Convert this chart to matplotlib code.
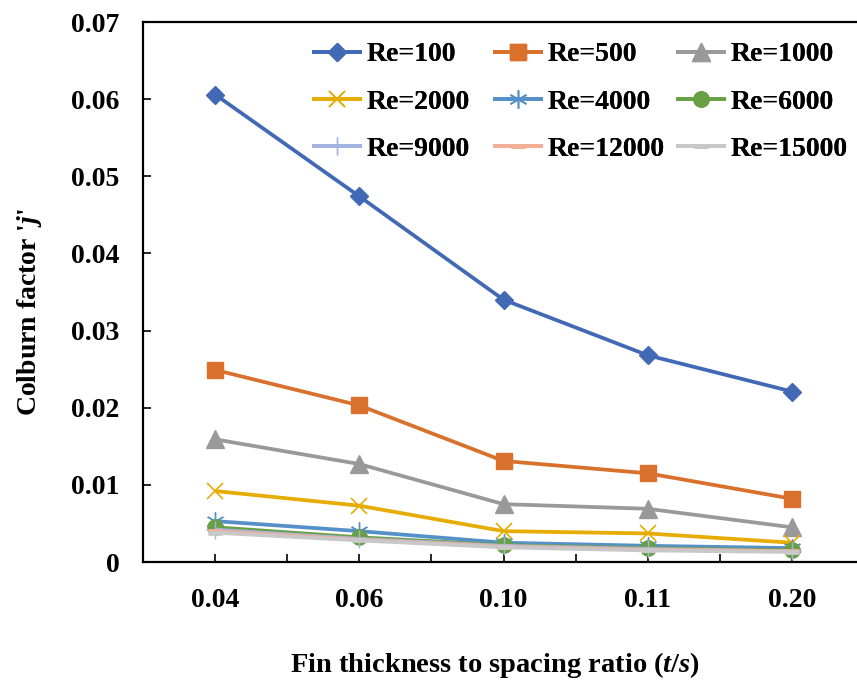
import matplotlib
matplotlib.use("Agg")
import matplotlib.pyplot as plt
from matplotlib.ticker import FixedLocator

# Fin thickness to spacing ratio categories
ratios = ["0.04", "0.06", "0.10", "0.11", "0.20"]

# Colburn factor j for each Reynolds number
j_re100 = [0.0606, 0.0474, 0.0340, 0.0268, 0.0221]
j_re500 = [0.0249, 0.0203, 0.0131, 0.0115, 0.0082]
j_re1000 = [0.0159, 0.0127, 0.0075, 0.0069, 0.0045]
j_re2000 = [0.0092, 0.0073, 0.0040, 0.0037, 0.0025]
j_re4000 = [0.0053, 0.0040, 0.0025, 0.0021, 0.0018]
j_re6000 = [0.0045, 0.0032, 0.0022, 0.0018, 0.0015]
j_re9000 = [0.0042, 0.0030, 0.0021, 0.0017, 0.0014]
j_re12000 = [0.0040, 0.0029, 0.0020, 0.0016, 0.0014]
j_re15000 = [0.0038, 0.0028, 0.0019, 0.0015, 0.0013]

y_ticks = [0.00, 0.01, 0.02, 0.03, 0.04, 0.05, 0.06, 0.07]
y_tick_labels = ["0", "0.01", "0.02", "0.03", "0.04", "0.05", "0.06", "0.07"]

labels = ["Re=100", "Re=500", "Re=1000", "Re=2000", "Re=4000",
          "Re=6000", "Re=9000", "Re=12000", "Re=15000"]
series = [j_re100, j_re500, j_re1000, j_re2000, j_re4000,
          j_re6000, j_re9000, j_re12000, j_re15000]

styles = [
    dict(color="#4169B6", marker="D", ms=9.5, mew=1.0),
    dict(color="#D9702C", marker="s", ms=11.5, mew=1.0),
    dict(color="#999999", marker="^", ms=12.5, mew=1.0),
    dict(color="#E6AC00", marker="x", ms=12, mew=1.2),
    dict(color="#5590CA", marker=(6, 2, 0), ms=13, mew=1.0),
    dict(color="#69A045", marker="o", ms=11, mew=1.0),
    dict(color="#A2B3E2", marker="+", ms=13, mew=1.0),
    dict(color="#F2AE96", marker="_", ms=10, mew=3.5),
    dict(color="#C8C8C8", marker="_", ms=10, mew=3.5),
]

plt.rcParams["font.family"] = ["Liberation Serif", "DejaVu Serif"]
plt.rcParams["font.weight"] = "bold"
plt.rcParams["mathtext.fontset"] = "custom"
plt.rcParams["mathtext.rm"] = "Liberation Serif:bold"
plt.rcParams["mathtext.it"] = "Liberation Serif:italic:bold"
plt.rcParams["mathtext.bf"] = "Liberation Serif:bold"

W, H = 857, 681
fig = plt.figure(figsize=(W / 100, H / 100), dpi=100)

# axes box in pixels: left 143, right 864, top 22, bottom 562
ax_left, ax_right, ax_top, ax_bottom = 143, 864, 22, 562
ax = fig.add_axes([ax_left / W, 1 - ax_bottom / H,
                   (ax_right - ax_left) / W, (ax_bottom - ax_top) / H])

x = list(range(len(ratios)))
handles = []
for lab, vals, st in zip(labels, series, styles):
    (h,) = ax.plot(x, vals, color=st["color"], lw=2.7, marker=st["marker"],
                   ms=st["ms"], mew=st["mew"], mec=st["color"],
                   mfc=st["color"], label=lab, solid_capstyle="butt")
    handles.append(h)

ax.set_xlim(-0.5, len(ratios) - 0.5)
ax.set_ylim(0, 0.07)
ax.xaxis.set_major_locator(FixedLocator(x))
ax.set_xticklabels(ratios)
ax.xaxis.set_minor_locator(FixedLocator([i + 0.5 for i in range(-1, len(ratios))]))
ax.set_yticks(y_ticks)
ax.set_yticklabels(y_tick_labels)

for sp in ax.spines.values():
    sp.set_linewidth(1.6)
    sp.set_color("black")

ax.tick_params(axis="both", which="both", direction="in", length=6, width=1.2,
               labelsize=20)
ax.tick_params(axis="y", pad=17)
ax.tick_params(axis="x", pad=19)
for lbl in ax.get_xticklabels() + ax.get_yticklabels():
    lbl.set_fontweight("bold")

fig.text(30 / W, 1 - 312 / H, "Colburn factor '$\\mathit{j}$'", rotation=90,
         ha="center", va="center", fontsize=20, fontweight="bold")
fig.text(495 / W, 1 - 665 / H, "Fin thickness to spacing ratio ($\\mathit{t/s}$)",
         ha="center", va="center", fontsize=20.5, fontweight="bold")

# legend laid out in three equally spaced columns
col_x = [312, 493, 676]
legend_top = 42
for c in range(3):
    idx = [c, c + 3, c + 6]
    leg = fig.legend([handles[i] for i in idx], [labels[i] for i in idx],
                     loc="upper left",
                     bbox_to_anchor=(col_x[c] / W, 1 - legend_top / H),
                     bbox_transform=fig.transFigure, frameon=False,
                     borderpad=0, borderaxespad=0, handlelength=1.8,
                     handletextpad=0.15, labelspacing=0.78,
                     prop=dict(family="Liberation Serif", weight="bold", size=20))
    fig.add_artist(leg)

fig.savefig("out.png", dpi=100)
